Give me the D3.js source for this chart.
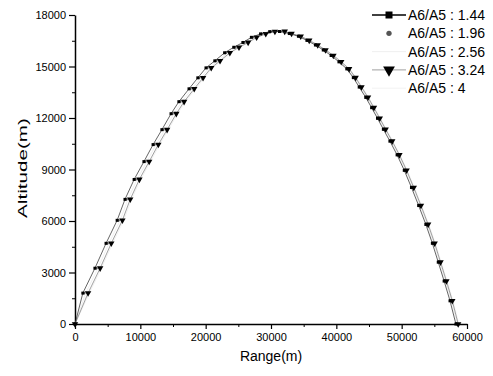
<!DOCTYPE html>
<html><head><meta charset="utf-8">
<script src="https://cdn.jsdelivr.net/npm/d3@7"></script>
<style>body{margin:0;background:#fff}svg text{font-family:"Liberation Sans",Arial,sans-serif}</style>
</head><body>
<svg id="c" width="493" height="376"></svg>
<script>
const seriesNames = ["A6/A5 : 1.44", "A6/A5 : 1.96", "A6/A5 : 2.56", "A6/A5 : 3.24", "A6/A5 : 4"];
const altitude = [0,1800,3250,4700,6040,7260,8420,9460,10450,11320,12250,12950,13700,14340,14920,15330,15800,16120,16400,16700,16900,17030,17040,16920,16760,16520,16250,15960,15640,15270,14860,14350,13800,13200,12600,11980,11340,10650,9850,8950,7950,6900,5800,4700,3600,2500,1350,0];
const range144 = [0,1200,3050,4750,6450,7650,9050,10550,11950,13300,14700,15900,17450,18800,20050,21400,22900,24300,25700,27000,28400,29800,31300,32800,34200,35500,36800,38000,39200,40400,41600,42600,43500,44500,45400,46300,47200,48200,49300,50400,51500,52600,53700,54700,55600,56500,57400,58300];
const range196 = [0,1400,3250,4950,6650,7850,9250,10750,12150,13500,14900,16100,17650,19000,20250,21600,23100,24500,25900,27200,28600,30000,31500,32900,34300,35600,36900,38100,39300,40500,41700,42700,43600,44600,45500,46400,47300,48300,49400,50500,51600,52700,53800,54800,55700,56600,57500,58400];
const range256 = [0,1650,3500,5200,6900,8100,9500,11000,12400,13750,15150,16350,17900,19250,20500,21850,23350,24750,26150,27450,28850,30250,31750,33000,34400,35700,37000,38200,39400,40600,41800,42800,43700,44700,45600,46500,47400,48400,49500,50600,51700,52800,53900,54900,55800,56700,57600,58500];
const range324 = [0,2000,3850,5550,7250,8450,9850,11350,12750,14100,15500,16700,18250,19600,20850,22200,23700,25100,26500,27800,29200,30600,32100,33150,34550,35850,37150,38350,39550,40750,41950,42950,43850,44850,45750,46650,47550,48550,49650,50750,51850,52950,54050,55050,55950,56850,57750,58650];
const range400 = [0,2200,4050,5750,7450,8650,10050,11550,12950,14300,15700,16900,18450,19800,21050,22400,23900,25300,26700,28000,29400,30800,32300,33250,34650,35950,37250,38450,39650,40850,42050,43050,43950,44950,45850,46750,47650,48650,49750,50850,51950,53050,54150,55150,56050,56950,57850,58750];
const xTicks = [0,10000,20000,30000,40000,50000,60000];
const yTicks = [0,3000,6000,9000,12000,15000,18000];

const ranges = [range144, range196, range256, range324, range400];
const styles = [
  {line:"#222", lw:0.7, marker:"square"},
  {line:null, lw:0, marker:"circle"},
  {line:"#e0e0e0", lw:0.5, marker:null},
  {line:"#777", lw:0.7, marker:"triangle"},
  {line:"#e4e4e4", lw:0.5, marker:null}
];

const svg = d3.select("#c");
const x = d3.scaleLinear().domain([0,60000]).range([75,467]);
const y = d3.scaleLinear().domain([0,18000]).range([324,15]);

// minor ticks
const xMinor = d3.range(5000,60000,10000);
const yMinor = d3.range(1500,18000,3000);
svg.append("g").attr("transform","translate(0,324)")
  .call(d3.axisBottom(x).tickValues(xMinor).tickSize(3).tickSizeOuter(0).tickFormat(""))
  .call(g=>g.select(".domain").remove()).selectAll("line").attr("stroke","#000").attr("stroke-width",1);
svg.append("g").attr("transform","translate(75,0)")
  .call(d3.axisLeft(y).tickValues(yMinor).tickSize(3).tickSizeOuter(0).tickFormat(""))
  .call(g=>g.select(".domain").remove()).selectAll("line").attr("stroke","#000").attr("stroke-width",1);

const gx = svg.append("g").attr("transform","translate(0,324)")
  .call(d3.axisBottom(x).tickValues(xTicks).tickSize(5).tickSizeOuter(0).tickPadding(4).tickFormat(d3.format("d")));
const gy = svg.append("g").attr("transform","translate(75,0)")
  .call(d3.axisLeft(y).tickValues(yTicks).tickSize(6).tickSizeOuter(0).tickPadding(3).tickFormat(d3.format("d")));
[gx,gy].forEach(g=>{
  g.select(".domain").attr("stroke","#000").attr("stroke-width",1.5);
  g.selectAll(".tick line").attr("stroke","#000").attr("stroke-width",1.2);
  g.selectAll(".tick text").attr("fill","#000").style("font-size","11px");
});

// series
const sym = {
  square: d3.symbol().type(d3.symbolSquare).size(9),
  circle: d3.symbol().type(d3.symbolCircle).size(6),
  triangle: d3.symbol().type(d3.symbolTriangle).size(18)
};
const lineGen = d3.line().x(d=>x(d[0])).y(d=>y(d[1]));
const order = [2,4,1,3,0];
order.forEach(i=>{
  const pts = ranges[i].map((r,k)=>[r, altitude[k]]);
  const st = styles[i];
  if (st.line) svg.append("path").datum(pts).attr("d",lineGen)
    .attr("fill","none").attr("stroke",st.line).attr("stroke-width",st.lw);
  if (st.marker) {
    svg.append("g").selectAll("path").data(pts).join("path")
      .attr("d", sym[st.marker])
      .attr("transform", d=>`translate(${x(d[0])},${y(d[1])})` + (st.marker==="triangle"?" rotate(180)":""))
      .attr("fill", st.marker==="circle" ? "#666" : "#000");
  }
});

// legend
const lg = svg.append("g");
seriesNames.forEach((name,i)=>{
  const cy = 15 + i*18.3;
  const st = styles[i];
  if (st.line) lg.append("line").attr("x1",372).attr("x2",406).attr("y1",cy).attr("y2",cy)
      .attr("stroke", i===0 ? "#000" : st.line).attr("stroke-width", i===0 ? 1.3 : st.lw);
  if (st.marker) {
    const s = st.marker==="square" ? d3.symbol().type(d3.symbolSquare).size(49)
            : st.marker==="circle" ? d3.symbol().type(d3.symbolCircle).size(22)
            : d3.symbol().type(d3.symbolTriangle).size(60);
    lg.append("path").attr("d", s)
      .attr("transform", `translate(389,${cy})` + (st.marker==="triangle"?" rotate(180)":""))
      .attr("fill", st.marker==="circle" ? "#555" : "#000");
  }
  lg.append("text").attr("x",408).attr("y",cy).attr("dy","0.36em")
    .style("font-size","14px").attr("fill","#000").text(name);
});

// axis titles
svg.append("text").attr("x",271).attr("y",361).attr("text-anchor","middle")
  .style("font-size","14px").attr("fill","#000").text("Range(m)");
svg.append("text").attr("transform","translate(27,168) rotate(-90)").attr("text-anchor","middle")
  .attr("textLength",100).attr("lengthAdjust","spacingAndGlyphs")
  .style("font-size","13px").attr("fill","#000").text("Altitude(m)");
</script>
</body></html>
